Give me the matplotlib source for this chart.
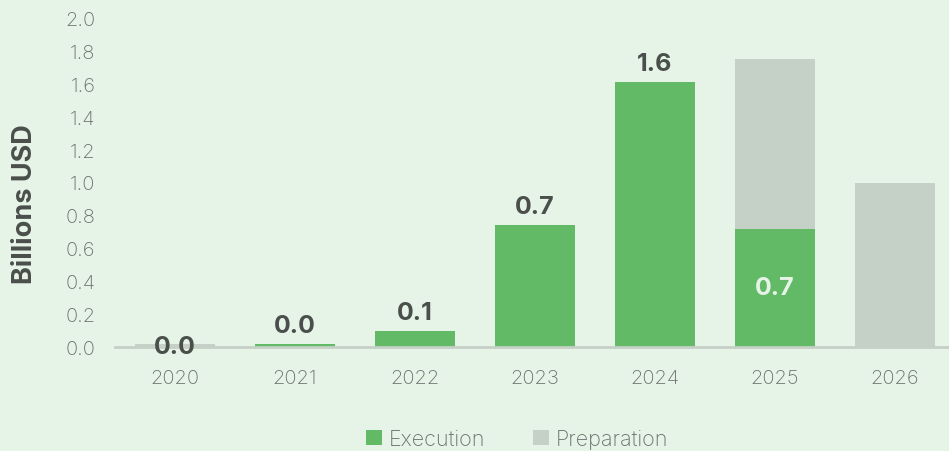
import matplotlib
matplotlib.use("Agg")
import matplotlib.pyplot as plt
from matplotlib.patches import Patch

years = ["2020", "2021", "2022", "2023", "2024", "2025", "2026"]
execution = [0.0, 0.02, 0.10, 0.74, 1.61, 0.72, 0.0]
preparation = [0.02, 0.0, 0.0, 0.0, 0.0, 1.03, 1.0]
y_ticks = [0.0, 0.2, 0.4, 0.6, 0.8, 1.0, 1.2, 1.4, 1.6, 1.8, 2.0]

BG = "#e6f4e8"
GREEN = "#62b966"
GRAY = "#c5d0c7"
DARK = "#4a4f4b"
TICK = "#6e716f"
FONT = ["Inter", "DejaVu Sans"]

plt.rcParams["font.family"] = FONT

fig = plt.figure(figsize=(9.49, 4.52), dpi=100, facecolor=BG)
ax = fig.add_axes([115 / 949, 104 / 452, 840 / 949, 329 / 452])
ax.set_facecolor(BG)

x = list(range(len(years)))
width = 0.667
ax.bar(x, execution, width=width, color=GREEN, zorder=2)
ax.bar(x, preparation, width=width, bottom=execution, color=GRAY, zorder=2)

for xi, e, p in zip(x, execution, preparation):
    if p > 0 and e == 0 and xi > 0:
        continue
    if p > 0:
        # value sits inside the execution segment
        inside_light = e > 0.15
        ax.text(xi, e / 2, f"{e:.1f}", ha="center", va="center",
                fontsize=18, fontweight="bold",
                color=BG if inside_light else DARK, zorder=4, clip_on=False)
    else:
        ax.annotate(f"{e:.1f}", (xi, e), xytext=(0, 5), textcoords="offset points",
                    ha="center", va="bottom", fontsize=18, fontweight="bold",
                    color=DARK, zorder=4)

ax.set_xlim(-0.5, 6.5)
ax.set_ylim(0, 2.0)
ax.set_yticks(y_ticks)
ax.set_yticklabels([f"{v:.1f}" for v in y_ticks])
ax.set_xticks(x)
ax.set_xticklabels(years)
ax.tick_params(axis="both", length=0, labelsize=14.5, labelcolor=TICK)
ax.tick_params(axis="y", pad=14)
ax.tick_params(axis="x", pad=16)
for lbl in ax.get_yticklabels() + ax.get_xticklabels():
    lbl.set_fontweight("light")

for side in ["top", "right", "left"]:
    ax.spines[side].set_visible(False)
ax.spines["bottom"].set_color(GRAY)
ax.spines["bottom"].set_linewidth(2)
ax.spines["bottom"].set_zorder(3)

ax.set_ylabel("Billions USD", fontsize=19.5, fontweight="bold", color=DARK)
ax.yaxis.set_label_coords(-0.0917, 0.438)

handles = [Patch(facecolor=GREEN, label="Execution"),
           Patch(facecolor=GRAY, label="Preparation")]
leg = fig.legend(handles=handles, loc="center", bbox_to_anchor=(517 / 949, 1 - 440 / 452),
                 ncol=2, frameon=False, fontsize=15.5, handlelength=0.75, handleheight=0.75,
                 handletextpad=0.3, columnspacing=2.2)
for t in leg.get_texts():
    t.set_color(TICK)
    t.set_fontweight("light")

fig.savefig("out.png", dpi=100, facecolor=BG)
